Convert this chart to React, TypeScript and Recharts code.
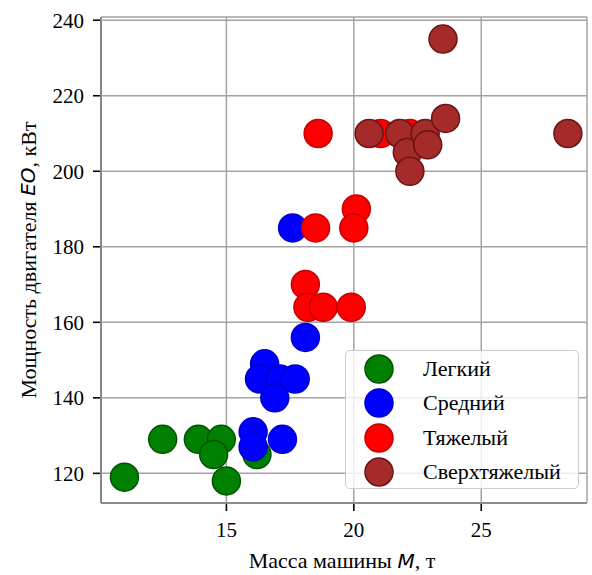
import React from 'react';
import { ScatterChart, Scatter, XAxis, YAxis, CartesianGrid, Label } from 'recharts';

// Масса машины (т) и мощность двигателя (кВт) по классам машин
const lightMass = [11, 12.5, 13.9, 14.8, 14.5, 15, 16.2];
const lightPower = [119, 129, 129, 129, 125, 118, 125];

const mediumMass = [18.1, 16.5, 16.3, 17.1, 17.7, 16.9, 16.05, 16.05, 17.2, 17.6];
const mediumPower = [156, 149, 145, 145, 145, 140, 131, 127, 129, 185];

const heavyMass = [18.6, 18.5, 20.1, 20, 18.1, 18.2, 18.8, 19.9, 21.05, 22.2];
const heavyPower = [210, 185, 190, 185, 170, 164, 164, 164, 210, 210];

const superMass = [23.5, 20.6, 21.8, 22.1, 22.2, 22.8, 22.9, 23.6, 28.4];
const superPower = [235, 210, 210, 205, 200, 210, 207, 214, 210];

const xTicks = [15, 20, 25];
const yTicks = [120, 140, 160, 180, 200, 220, 240];

const toPoints = (xs: number[], ys: number[]) => xs.map((m, i) => ({ m, p: ys[i] }));

const series = [
    { name: 'Легкий', data: toPoints(lightMass, lightPower), fill: '#008000', stroke: '#005400' },
    { name: 'Средний', data: toPoints(mediumMass, mediumPower), fill: '#0000ff', stroke: '#0000cc' },
    { name: 'Тяжелый', data: toPoints(heavyMass, heavyPower), fill: '#ff0000', stroke: '#c80000' },
    { name: 'Сверхтяжелый', data: toPoints(superMass, superPower), fill: '#a52a2a', stroke: '#6a1414' },
];

const SERIF = 'Liberation Serif';
const MATH = 'DejaVu Sans';
const R = 14;

const dot = (fill: string, stroke: string) => (props: any) => (
    <circle cx={props.cx} cy={props.cy} r={R} fill={fill} stroke={stroke} strokeWidth={1.5} />
);

function YTitle(props: any) {
    const vb = props.viewBox || {};
    const cx = 28;
    const cy = (vb.y ?? 17) + (vb.height ?? 486) / 2;
    return (
        <text
            x={cx}
            y={cy}
            transform={`rotate(-90 ${cx} ${cy})`}
            textAnchor="middle"
            dominantBaseline="central"
            style={{ fontFamily: SERIF, fontSize: 22 }}
            fill="#000"
        >
            Мощность двигателя <tspan style={{ fontFamily: MATH, fontStyle: 'italic', fontSize: 20 }}>EO</tspan>, кВт
        </text>
    );
}

function XTitle(props: any) {
    const vb = props.viewBox || {};
    const cx = (vb.x ?? 101) + (vb.width ?? 486) / 2 - 2;
    return (
        <text x={cx} y={568} textAnchor="middle" style={{ fontFamily: SERIF, fontSize: 22 }} fill="#000">
            Масса машины <tspan style={{ fontFamily: MATH, fontStyle: 'italic', fontSize: 20 }}>M</tspan>, т
        </text>
    );
}

function LegendBox() {
    return (
        <div
            style={{
                position: 'absolute',
                left: 345,
                top: 350,
                width: 234,
                height: 139,
                border: '1.5px solid #cccccc',
                borderRadius: 5,
                background: 'rgba(255,255,255,0.8)',
                boxSizing: 'border-box',
            }}
        >
            {series.map((s, i) => (
                <div
                    key={s.name}
                    style={{ position: 'absolute', left: 0, top: 3 + i * 34.4, height: 30, display: 'flex', alignItems: 'center' }}
                >
                    <svg width={70} height={30} style={{ display: 'block' }}>
                        <circle cx={33} cy={15} r={R} fill={s.fill} stroke={s.stroke} strokeWidth={1.5} />
                    </svg>
                    <span style={{ fontFamily: SERIF, fontSize: 22, color: '#000', marginLeft: 7, lineHeight: '30px' }}>
                        {s.name}
                    </span>
                </div>
            ))}
        </div>
    );
}

const tickStyle = { fill: '#000', fontSize: 21, style: { fontFamily: SERIF } };

export default function App() {
    return (
        <div style={{ position: 'absolute', left: 0, top: 0, width: 592, height: 575, background: '#fff' }}>
            <ScatterChart width={592} height={575} margin={{ top: 17, right: 5, bottom: 0, left: 0 }}>
                <XAxis
                    type="number"
                    dataKey="m"
                    domain={[10.08, 29.15]}
                    ticks={xTicks}
                    allowDataOverflow
                    height={72}
                    stroke="#000"
                    strokeWidth={1.6}
                    tickSize={8}
                    tickMargin={11}
                    tick={tickStyle}
                >
                    <Label content={<XTitle />} />
                </XAxis>
                <XAxis
                    xAxisId="top"
                    orientation="top"
                    type="number"
                    dataKey="m"
                    domain={[10.08, 29.15]}
                    allowDataOverflow
                    height={0}
                    stroke="#000"
                    strokeWidth={1.6}
                    tick={false}
                    tickLine={false}
                />
                <YAxis
                    type="number"
                    dataKey="p"
                    domain={[112.15, 240.85]}
                    ticks={yTicks}
                    allowDataOverflow
                    width={101}
                    stroke="#000"
                    strokeWidth={1.6}
                    tickSize={8}
                    tickMargin={9}
                    tick={tickStyle}
                >
                    <Label content={<YTitle />} />
                </YAxis>
                <YAxis
                    yAxisId="right"
                    orientation="right"
                    type="number"
                    dataKey="p"
                    domain={[112.15, 240.85]}
                    allowDataOverflow
                    width={0}
                    stroke="#000"
                    strokeWidth={1.6}
                    tick={false}
                    tickLine={false}
                />
                {series.map(s => (
                    <Scatter
                        key={s.name}
                        name={s.name}
                        data={s.data}
                        fill={s.fill}
                        shape={dot(s.fill, s.stroke)}
                        isAnimationActive={false}
                    />
                ))}
                <CartesianGrid stroke="#a3a3a3" strokeWidth={1.5} zIndex={500} />
            </ScatterChart>
            <LegendBox />
        </div>
    );
}
